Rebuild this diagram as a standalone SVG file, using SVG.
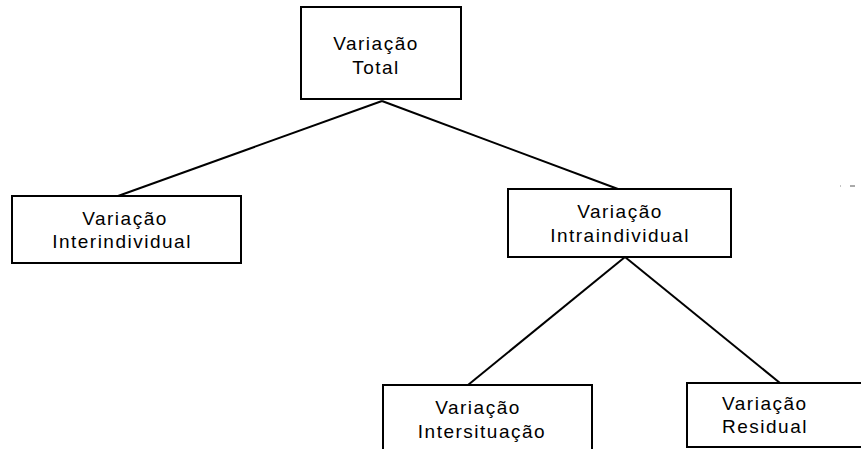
<svg xmlns="http://www.w3.org/2000/svg" width="861" height="449" viewBox="0 0 861 449">
<style>
.box{fill:#fff;stroke:#000;stroke-width:2}
.lbl{font-family:"Liberation Sans",Arial,sans-serif;font-size:19px;letter-spacing:1.5px;fill:#000;text-anchor:middle}
.lblL{font-family:"Liberation Sans",Arial,sans-serif;font-size:19px;letter-spacing:1.5px;fill:#000}
.con{stroke:#000;stroke-width:2;fill:none}
</style>
<rect width="861" height="449" fill="#fff"/>
<g id="connectors">
<line class="con" x1="382" y1="101" x2="118" y2="196"/>
<line class="con" x1="382" y1="101" x2="618" y2="189"/>
<line class="con" x1="625" y1="257" x2="468" y2="385"/>
<line class="con" x1="625" y1="257" x2="780" y2="383"/>
<line x1="840" y1="186" x2="841" y2="186" stroke="#888" stroke-width="1"/>
<line x1="850" y1="186" x2="855" y2="186" stroke="#555" stroke-width="1"/>
</g>
<g id="total">
<rect class="box" x="301" y="7" width="160" height="92"/>
<text class="lbl" x="376" y="50">Variação</text>
<text class="lbl" x="376" y="74">Total</text>
</g>
<g id="interindividual">
<rect class="box" x="12" y="196" width="229" height="67"/>
<text class="lbl" x="125" y="225">Variação</text>
<text class="lbl" x="122" y="248">Interindividual</text>
</g>
<g id="intraindividual">
<rect class="box" x="508" y="189" width="223" height="68"/>
<text class="lbl" x="620" y="218">Variação</text>
<text class="lbl" x="620" y="242">Intraindividual</text>
</g>
<g id="intersituacao">
<rect class="box" x="383" y="385" width="209" height="80"/>
<text class="lbl" x="478" y="414">Variação</text>
<text class="lbl" x="482" y="438">Intersituação</text>
</g>
<g id="residual">
<rect class="box" x="687" y="383" width="190" height="64"/>
<text class="lblL" x="722" y="410">Variação</text>
<text class="lblL" x="722" y="433">Residual</text>
</g>
</svg>
